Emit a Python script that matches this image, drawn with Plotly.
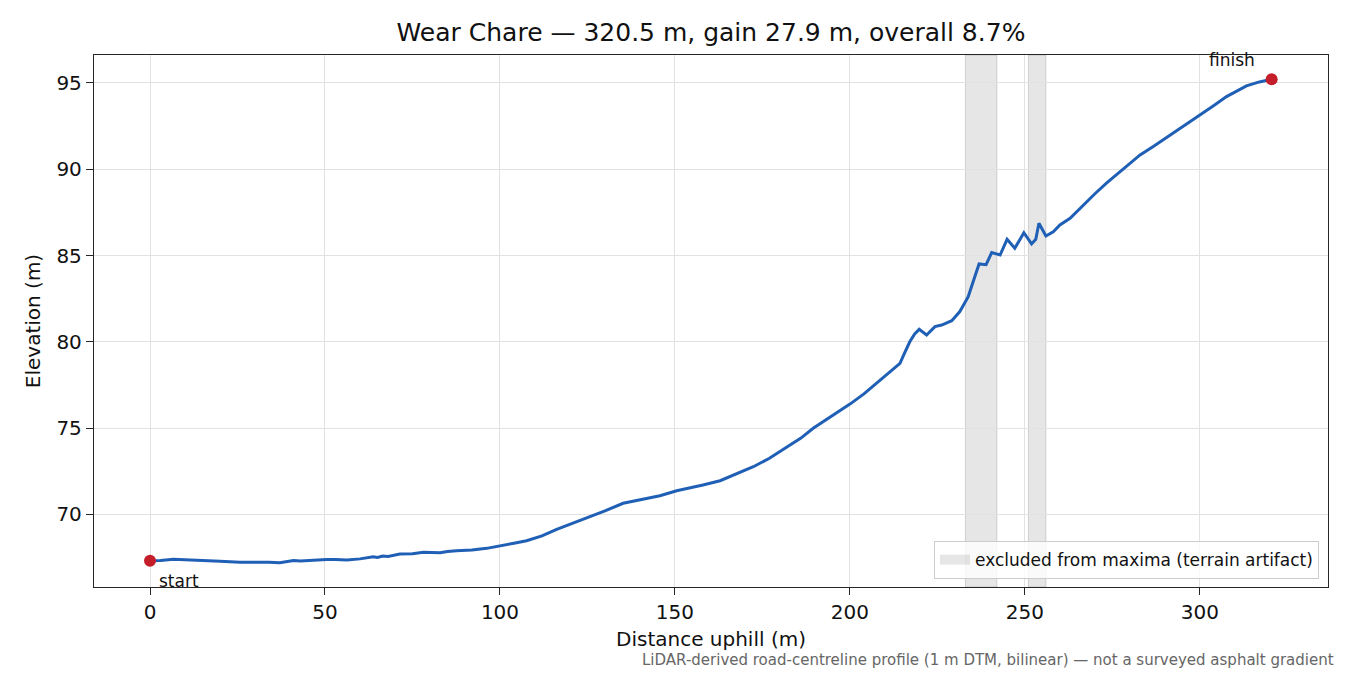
import plotly.graph_objects as go

# elevation profile (distance uphill in m, elevation in m)
distance = [0, 3, 6.7, 10, 14.3, 20, 25.7, 31.4, 34, 37.1, 41, 43, 46.7, 50.5, 53, 56.2,
            60, 63.8, 65, 66.5, 68, 71.4, 75, 78.1, 82.9, 85, 87.6, 92, 96.2, 101.9, 104,
            107.6, 112, 116.2, 120, 124.8, 130, 135.2, 140, 145.7, 150.5, 155, 158, 162.9,
            167, 172.4, 177, 181.9, 186, 189.5, 195, 200, 204, 208.6, 211, 212.4, 214.3,
            215.5, 217.1, 218.5, 219.8, 221.9, 224.3, 226.2, 229.1, 231.4, 233.8, 235.2,
            236.9, 238.9, 240.5, 242.9, 244.9, 247.1, 249.7, 251.9, 253.1, 254, 256, 258.1,
            260, 262.9, 266.7, 270, 273.3, 278, 282.9, 287, 292.4, 296, 300, 304, 307.6,
            310, 313.3, 317, 320.5]
elevation = [67.31, 67.33, 67.4, 67.36, 67.31, 67.28, 67.23, 67.25, 67.23, 67.2, 67.33, 67.3,
             67.35, 67.39, 67.38, 67.35, 67.42, 67.54, 67.5, 67.58, 67.56, 67.7, 67.72, 67.8,
             67.77, 67.85, 67.89, 67.93, 68.03, 68.28, 68.33, 68.47, 68.75, 69.13, 69.42,
             69.77, 70.2, 70.64, 70.85, 71.08, 71.37, 71.55, 71.7, 71.95, 72.3, 72.76, 73.25,
             73.88, 74.42, 74.99, 75.7, 76.39, 76.98, 77.79, 78.2, 78.46, 78.75, 79.3, 80.0,
             80.45, 80.72, 80.39, 80.88, 80.97, 81.22, 81.75, 82.61, 83.48, 84.51, 84.47,
             85.17, 85.03, 85.94, 85.42, 86.32, 85.67, 85.94, 86.87, 86.13, 86.38, 86.77,
             87.16, 87.93, 88.58, 89.19, 90.02, 90.83, 91.36, 92.09, 92.62, 93.15, 93.7,
             94.21, 94.48, 94.83, 95.06, 95.21]

# stretches excluded from maxima (terrain artifact)
excluded_start = [233.0, 251.0]
excluded_end = [242.0, 256.0]

name = "Wear Chare"
length = distance[-1]
gain = elevation[-1] - elevation[0]
title = f"{name} — {length:.1f} m, gain {gain:.1f} m, overall {100 * gain / length:.1f}%"

FONT = "DejaVu Sans"
BAND_FILL = "rgba(128,128,128,0.2)"
BAND_EDGE = "rgba(128,128,128,0.3)"

fig = go.Figure()

for a, b in zip(excluded_start, excluded_end):
    fig.add_vrect(x0=a, x1=b, fillcolor=BAND_FILL, line=dict(color=BAND_EDGE, width=1),
                  layer="below")

# legend-only entry for the shaded bands (thick line gives a box-shaped swatch)
fig.add_trace(go.Scatter(
    x=[None], y=[None], mode="lines",
    line=dict(color=BAND_FILL, width=12), name="excluded from maxima (terrain artifact)",
))

fig.add_trace(go.Scatter(
    x=distance, y=elevation, mode="lines",
    line=dict(color="#1f5fb5", width=3), showlegend=False,
))
fig.add_trace(go.Scatter(
    x=[distance[0], distance[-1]], y=[elevation[0], elevation[-1]], mode="markers",
    marker=dict(color="#c41e2a", size=12), showlegend=False,
))

fig.add_annotation(x=distance[0], y=elevation[0], text="start", showarrow=False,
                   xanchor="left", yanchor="top", xshift=7, yshift=-8,
                   font=dict(family=FONT, size=17, color="#111"))
fig.add_annotation(x=distance[-1], y=elevation[-1], text="finish", showarrow=False,
                   xanchor="right", yanchor="bottom", xshift=-15, yshift=7,
                   font=dict(family=FONT, size=17, color="#111"))
fig.add_annotation(xref="paper", yref="paper", x=1.0065, y=-0.137,
                   text="LiDAR-derived road-centreline profile (1 m DTM, bilinear) — not a surveyed asphalt gradient",
                   showarrow=False, xanchor="right", yanchor="middle",
                   font=dict(family=FONT, size=15, color="#666666"))

axis_common = dict(
    showline=True, linecolor="#262626", linewidth=1.3, mirror=True,
    ticks="outside", ticklen=7, tickwidth=1.3, tickcolor="#262626",
    showgrid=True, gridcolor="#e2e2e2", gridwidth=1.3, zeroline=False,
    tickfont=dict(family=FONT, size=20, color="#111"),
)

fig.update_xaxes(range=[-16, 336.6], tickmode="array", tickvals=[0, 50, 100, 150, 200, 250, 300],
                 title=dict(text="Distance uphill (m)", font=dict(family=FONT, size=20, color="#111"),
                            standoff=8), **axis_common)
fig.update_yaxes(range=[65.79, 96.62], tickmode="array", tickvals=[70, 75, 80, 85, 90, 95],
                 title=dict(text="Elevation (m)", font=dict(family=FONT, size=20, color="#111"),
                            standoff=10), **axis_common)

fig.update_layout(
    width=1350, height=675,
    margin=dict(l=94, r=22, t=55, b=88),
    paper_bgcolor="white", plot_bgcolor="white",
    title=dict(text=title, xref="paper", x=0.5, xanchor="center", y=0.952, yanchor="middle",
               font=dict(family=FONT, size=25, color="#111")),
    legend=dict(x=0.9927, y=0.015, xanchor="right", yanchor="bottom",
                bgcolor="rgba(255,255,255,0.8)", bordercolor="#cccccc", borderwidth=1,
                font=dict(family=FONT, size=17, color="#111")),
    font=dict(family=FONT),
)

fig.write_html("out.html", config={"displayModeBar": False},
               post_script="document.body.style.margin = '0';")
